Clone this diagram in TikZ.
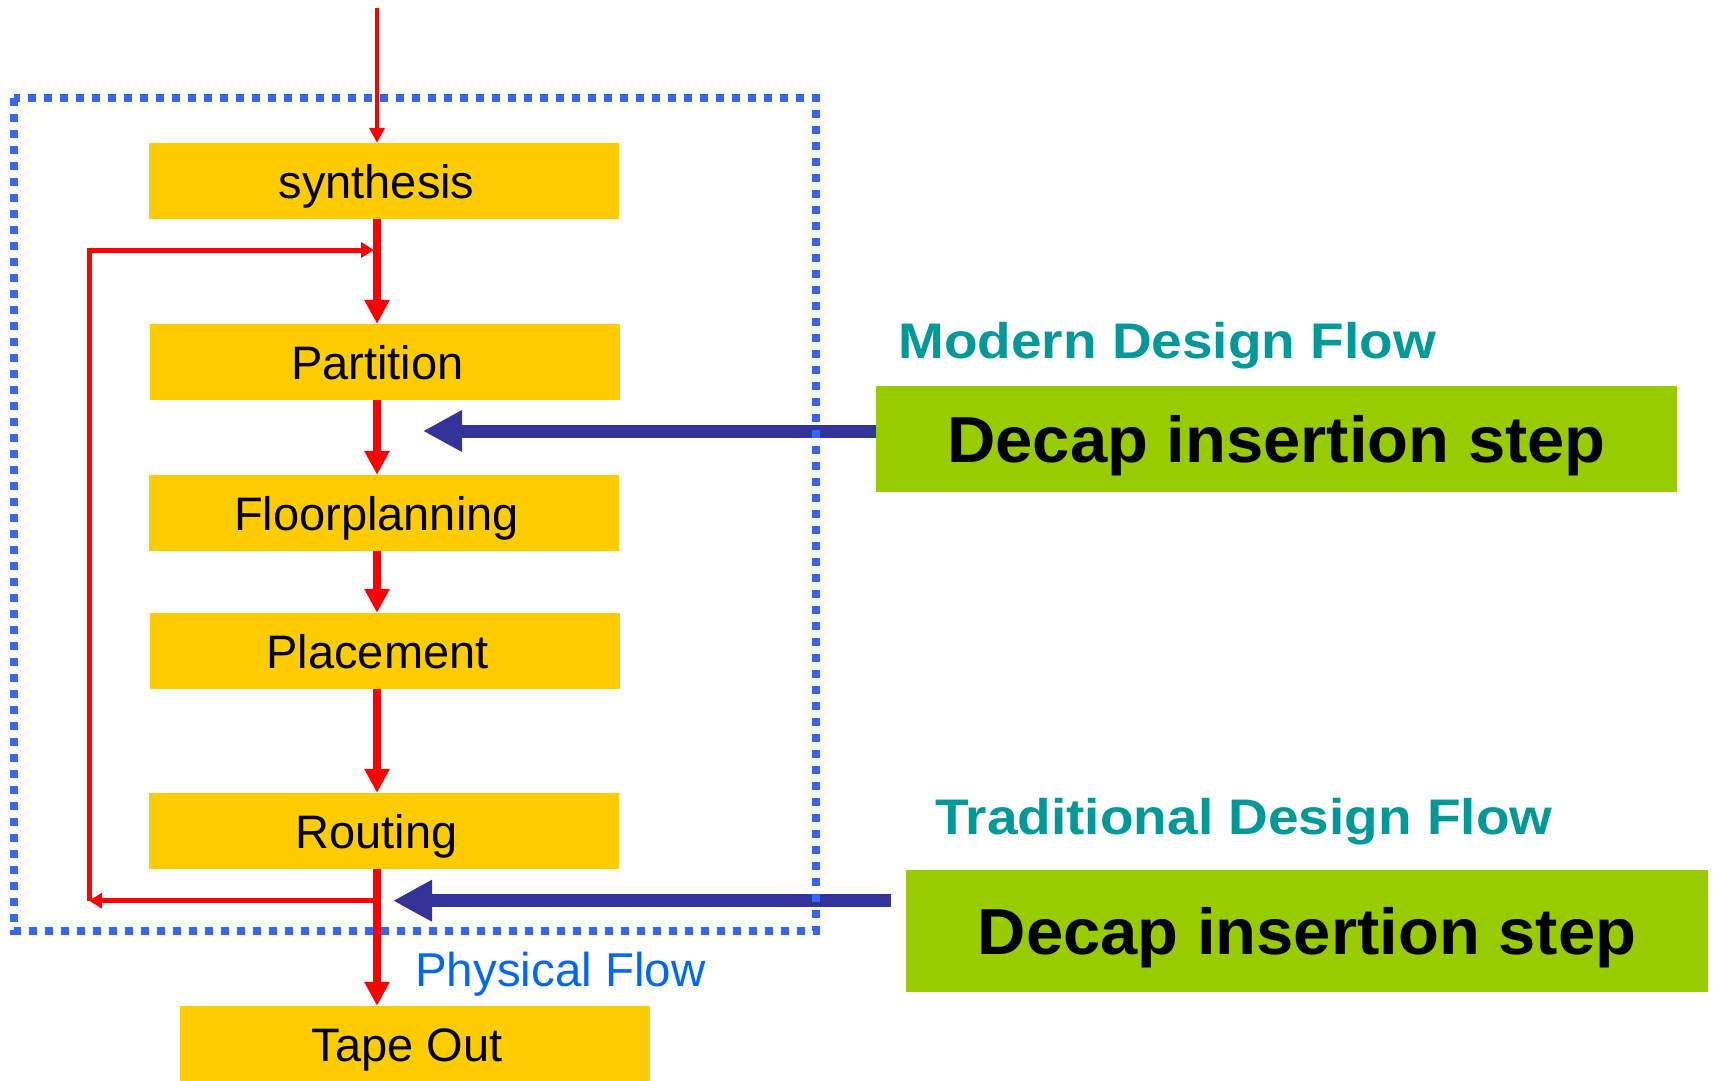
\documentclass[tikz,border=0pt]{standalone}
\usepackage{fontspec}
\setmainfont{Liberation Sans}
\usetikzlibrary{arrows.meta}

\definecolor{boxyellow}{RGB}{255,204,0}
\definecolor{stepgreen}{RGB}{153,204,0}
\definecolor{flowred}{RGB}{255,0,0}
\definecolor{navyarrow}{RGB}{51,51,153}
\definecolor{framedots}{RGB}{51,102,255}
\definecolor{flowteal}{RGB}{0,153,153}
\definecolor{physblue}{RGB}{0,102,255}

\begin{document}
\begin{tikzpicture}[x=1pt,y=-1pt,
  flowbox/.style={fill=boxyellow, minimum width=470pt, minimum height=76pt,
    inner sep=0pt, text height=34pt, text depth=0pt,
    font=\fontsize{47}{50}\selectfont,
    execute at end node={\hspace*{15pt}}},
  stepbox/.style={fill=stepgreen, inner sep=0pt, text height=46pt, text depth=0pt,
    font=\fontsize{65}{70}\selectfont\bfseries},
  flowtitle/.style={anchor=base west, inner sep=0pt, text=flowteal,
    font=\fontsize{50}{54}\selectfont\bfseries},
  thinred/.style={draw=flowred, line width=4.5pt,
    -{Triangle[length=15pt,width=15pt]}},
  thickred/.style={draw=flowred, line width=8pt,
    -{Triangle[length=24pt,width=24pt]}},
  loopred/.style={draw=flowred, line width=5pt,
    -{Triangle[length=13pt,width=15pt]}},
  insertarrow/.style={draw=navyarrow, line width=13pt,
    -{Triangle[length=39pt,width=39pt]}},
]
\useasboundingbox (0,0) rectangle (1713,1080);

% flow steps
\node[flowbox] (syn)   at (384,181)   {synthesis};
\node[flowbox] (part)  at (385,362)   {Partition};
\node[flowbox] (floor) at (384,513)   {Floorplanning};
\node[flowbox] (place) at (385,651)   {Placement};
\node[flowbox] (route) at (384,831)   {Routing};
\node[flowbox] (tape)  at (414.5,1044) {Tape Out};

% modern flow: decap insertion after partition
\node[flowtitle] (modern) at (898,358) {\scalebox{1.1}[1]{Modern Design Flow}};
\node[stepbox, minimum width=801pt, minimum height=106pt] (stepA)
  at (1276.5,439) {\scalebox{1.03}[1]{Decap insertion step}};
\coordinate (tipA) at (423,431);
\draw[insertarrow] (tipA -| stepA.west) -- (tipA);

% traditional flow: decap insertion after routing
\node[flowtitle] (trad) at (935,834) {\scalebox{1.1}[1]{Traditional Design Flow}};
\node[stepbox, minimum width=802pt, minimum height=122pt] (stepB)
  at (1307,931) {\scalebox{1.03}[1]{Decap insertion step}};
\coordinate (tipB)  at (393,900.7);
\coordinate (tailB) at (891,900.7);
\draw[insertarrow] (tailB) -- (tipB);

% dotted frame around the physical flow
\draw[framedots, line width=8pt, dash pattern=on 8pt off 8pt]
  (14,98) rectangle (816,931);

% spine of the flow and loop points
\coordinate (spine)  at (377,0);
\coordinate (start)  at (377,8);
\coordinate (branch) at (377,900.7);
\coordinate (corner) at (89,900.7);
\coordinate (join)   at (374,250);

% main flow connectors
\draw[thinred]  (start) -- (syn.north -| spine);
\draw[thickred] (syn.south -| spine)   -- (part.north -| spine);
\draw[thickred] (part.south -| spine)  -- (floor.north -| spine);
\draw[thickred] (floor.south -| spine) -- (place.north -| spine);
\draw[thickred] (place.south -| spine) -- (route.north -| spine);
\draw[thickred] (route.south -| spine) -- (tape.north -| spine);

% iteration loop back to partition
\draw[loopred] (branch) -- (corner);
\draw[loopred] (corner) |- (join);

\node[anchor=base west, inner sep=0pt, text=physblue,
  font=\fontsize{47.5}{50}\selectfont] (phys) at (415,986) {Physical Flow};
\end{tikzpicture}
\end{document}
